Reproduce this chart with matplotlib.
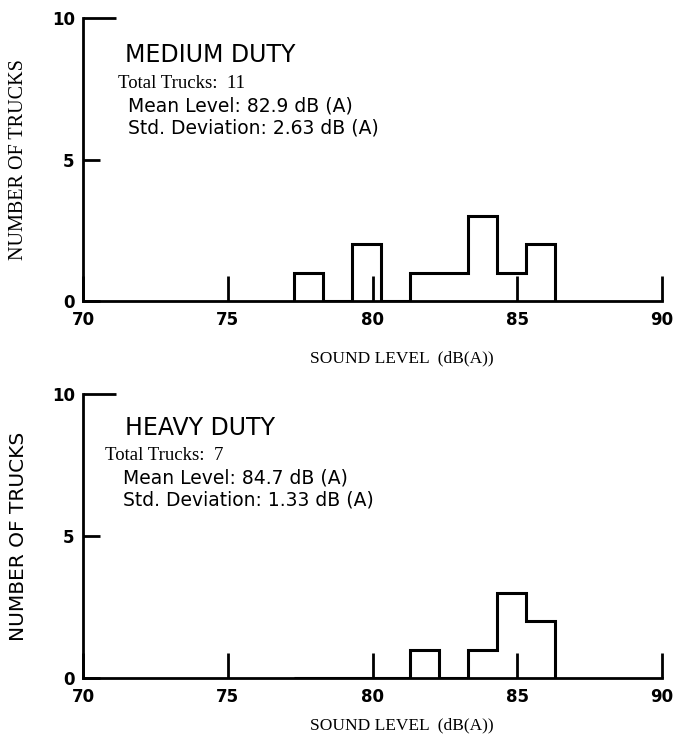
import matplotlib.pyplot as plt

# bin edges (dB(A)) and truck counts
edges = [77.3, 78.3, 79.3, 80.3, 81.3, 82.3, 83.3, 84.3, 85.3, 86.3]
medium_counts = [1, 0, 2, 0, 1, 1, 3, 1, 2]
heavy_counts = [0, 0, 0, 0, 1, 0, 1, 3, 2]

xticks = [70, 75, 80, 85, 90]
yticks = [0, 5, 10]

panels = [
    ("MEDIUM DUTY", "11", "82.9", "2.63", medium_counts, [0.122, 0.5954, 0.850, 0.3804]),
    ("HEAVY DUTY", "7", "84.7", "1.33", heavy_counts, [0.122, 0.0887, 0.850, 0.3817]),
]
# text placement per panel (axes fractions)
text_x = [(0.073, 0.060, 0.078), (0.073, 0.038, 0.069)]
text_y = [(0.869, 0.770, 0.689, 0.611), (0.880, 0.785, 0.704, 0.627)]
xlabel_y = [-0.175, -0.14]

fig = plt.figure(figsize=(6.81, 7.44), dpi=100)

for i, (title, total, mean, std, counts, rect) in enumerate(panels):
    ax = fig.add_axes(rect)
    ax.stairs(counts, edges, baseline=0, color="black", lw=2.2)
    ax.set_xlim(70, 90)
    ax.set_ylim(0, 10)
    ax.spines["top"].set_visible(False)
    ax.spines["right"].set_visible(False)
    ax.spines["left"].set_linewidth(2)
    ax.spines["bottom"].set_linewidth(2)
    ax.set_xticks(xticks)
    ax.set_yticks(yticks)
    ax.tick_params(axis="x", direction="in", length=18, width=2, labelsize=12, pad=7)
    ax.tick_params(axis="y", direction="in", length=12, width=2, labelsize=12, pad=6)
    ax.yaxis.get_major_ticks()[2].tick1line.set_markersize(24)
    for lab in ax.get_xticklabels() + ax.get_yticklabels():
        lab.set_fontweight("bold")

    if i == 0:
        ax.set_ylabel("NUMBER OF TRUCKS", fontsize=14.5, family="Liberation Serif")
    else:
        ax.set_ylabel("NUMBER OF TRUCKS", fontsize=14.5, family="DejaVu Sans")
    ax.yaxis.set_label_coords(-0.095, 0.5)
    ax.set_xlabel("SOUND LEVEL  (dB(A))", fontsize=12.5, family="Liberation Serif")
    ax.xaxis.set_label_coords(0.55, xlabel_y[i])

    tx = text_x[i]
    ty = text_y[i]
    ax.text(tx[0], ty[0], title, transform=ax.transAxes, fontsize=17, va="center")
    ax.text(tx[1], ty[1], "Total Trucks:  " + total, transform=ax.transAxes,
            fontsize=13.5, va="center", family="Liberation Serif")
    ax.text(tx[2], ty[2], "Mean Level: " + mean + " dB (A)", transform=ax.transAxes,
            fontsize=13.5, va="center")
    ax.text(tx[2], ty[3], "Std. Deviation: " + std + " dB (A)", transform=ax.transAxes,
            fontsize=13.5, va="center")

fig.savefig("out.png", dpi=100, facecolor="white")
